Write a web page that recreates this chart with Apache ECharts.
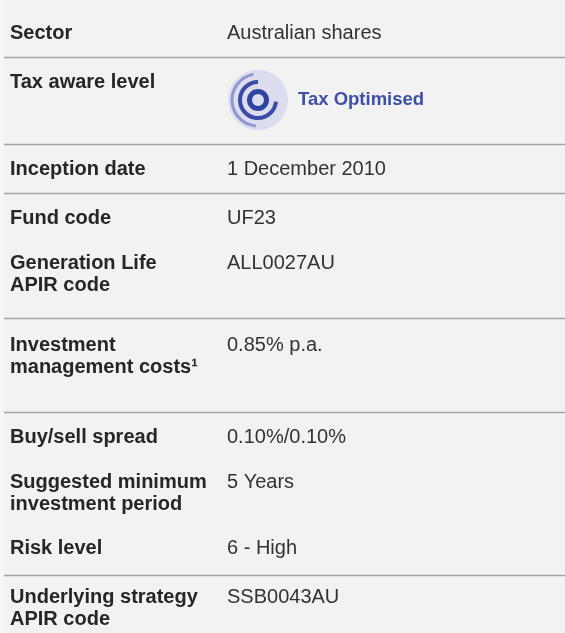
<!DOCTYPE html>
<html>
<head>
<meta charset="utf-8">
<script src="https://cdn.jsdelivr.net/npm/echarts@6/dist/echarts.min.js"></script>
<style>
html,body{margin:0;padding:0;background:#f2f2f2;}
#chart{width:565px;height:633px;}
</style>
</head>
<body>
<div id="chart"></div>
<script>
// ---- data ----
const rowLabels = [
  'Sector',
  'Tax aware level',
  'Inception date',
  'Fund code',
  'Generation Life\nAPIR code',
  'Investment\nmanagement costs\u00B9',
  'Buy/sell spread',
  'Suggested minimum\ninvestment period',
  'Risk level',
  'Underlying strategy\nAPIR code'
];
const rowValues = [
  'Australian shares',
  '',
  '1 December 2010',
  'UF23',
  'ALL0027AU',
  '0.85% p.a.',
  '0.10%/0.10%',
  '5 Years',
  '6 - High',
  'SSB0043AU'
];
const badgeRow = 1;
const badgeText = 'Tax Optimised';
const dividerAfterRows = [0, 1, 2, 4, 5, 8];

// ---- layout (kept apart from data) ----
const rowFirstLineY = [33, 82, 169, 218, 263, 345, 437, 482, 548, 597];
const dividerY = [57, 144, 193, 318, 412, 575];
const labelX = 10, valueX = 227, lineH = 22;
const fontSize = 20;

const chart = echarts.init(document.getElementById('chart'), null, {renderer: 'canvas'});
const elements = [];

elements.push({type: 'rect', shape: {x: 0, y: 0, width: 565, height: 633}, style: {fill: '#f2f2f2'}, silent: true});
elements.push({type: 'rect', shape: {x: 0, y: 0, width: 4, height: 633}, style: {fill: '#f7f7f7'}, silent: true});

dividerAfterRows.forEach((r, i) => {
  elements.push({
    type: 'line',
    shape: {x1: 4, y1: dividerY[i] + 0.5, x2: 565, y2: dividerY[i] + 0.5},
    style: {stroke: '#a3a3a3', lineWidth: 1.5}
  });
});

rowLabels.forEach((lab, i) => {
  elements.push({
    type: 'text',
    x: labelX, y: rowFirstLineY[i] - lineH / 2,
    style: {
      text: lab, fill: '#262626',
      font: 'bold ' + fontSize + 'px "Liberation Sans", Arial, sans-serif',
      lineHeight: lineH, verticalAlign: 'top', align: 'left'
    }
  });
  if (rowValues[i]) {
    elements.push({
      type: 'text',
      x: valueX, y: rowFirstLineY[i] - lineH / 2,
      style: {
        text: rowValues[i], fill: '#333333',
        font: fontSize + 'px "Liberation Sans", Arial, sans-serif',
        lineHeight: lineH, verticalAlign: 'top', align: 'left'
      }
    });
  }
});

// Tax badge
const bcx = 258, bcy = 100;
const d2r = Math.PI / 180;
elements.push({type: 'circle', shape: {cx: bcx, cy: bcy, r: 30}, style: {fill: '#dcdcef'}});
elements.push({type: 'arc', shape: {cx: bcx, cy: bcy, r: 26, startAngle: -100 * d2r, endAngle: 95 * d2r, clockwise: false},
  style: {stroke: '#8e97cf', lineWidth: 3, fill: null}});
elements.push({type: 'arc', shape: {cx: bcx, cy: bcy, r: 18, startAngle: -90 * d2r, endAngle: 5 * d2r, clockwise: false},
  style: {stroke: '#3a4ca6', lineWidth: 4, fill: null}});
elements.push({type: 'circle', shape: {cx: bcx, cy: bcy, r: 8.5}, style: {fill: null, stroke: '#2f43a0', lineWidth: 5}});
elements.push({
  type: 'text', x: 298, y: bcy,
  style: {text: badgeText, fill: '#3d4fa5', font: 'bold 18.5px "Liberation Sans", Arial, sans-serif', verticalAlign: 'middle', align: 'left'}
});

chart.setOption({
  backgroundColor: '#f2f2f2',
  animation: false,
  graphic: {elements: elements}
});
</script>
</body>
</html>
